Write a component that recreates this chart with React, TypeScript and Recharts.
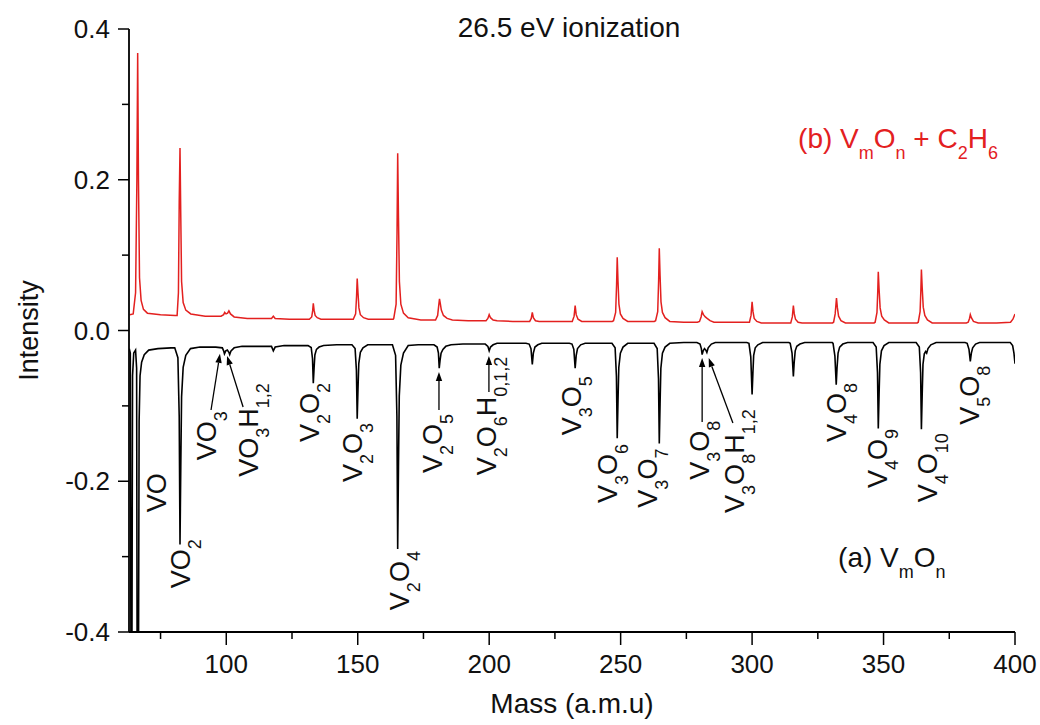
import React from 'react';
import { LineChart, Line, XAxis, YAxis, ReferenceDot, ReferenceLine } from 'recharts';

const FONT = '"Liberation Sans", Arial, Helvetica, sans-serif';
const RED = '#e3201f';

const xMajorTicks = [100, 150, 200, 250, 300, 350, 400];
const xAllTicks = [75, 100, 125, 150, 175, 200, 225, 250, 275, 300, 325, 350, 375, 400];
const yMajorTicks = [-0.4, -0.2, 0, 0.2, 0.4];
const yAllTicks = [-0.4, -0.3, -0.2, -0.1, 0, 0.1, 0.2, 0.3, 0.4];

// (b) VmOn + C2H6 spectrum : [mass, intensity]
const redTrace: [number, number][] = [
  [63.3, 0.021], [64.6, 0.022], [65.5, 0.05], [66.0, 0.2], [66.3, 0.368], [66.6, 0.2], [67.0, 0.07], [67.6, 0.04],
  [68.5, 0.028], [70, 0.023], [75, 0.021], [80.5, 0.020],
  [81.3, 0.020], [81.8, 0.05], [82.1, 0.17], [82.4, 0.242], [82.7, 0.15], [83.0, 0.065], [83.6, 0.037], [84.6, 0.027], [86.5, 0.022],
  [92, 0.019], [98, 0.019], [99.0, 0.021], [99.4, 0.024], [99.9, 0.022], [100.5, 0.023], [101.0, 0.026], [101.6, 0.022],
  [103, 0.018], [108, 0.016], [113, 0.016],
  [117.2, 0.016], [117.9, 0.019], [118.6, 0.016], [124, 0.015], [130, 0.015],
  [131.6, 0.015], [132.5, 0.018], [132.85, 0.026], [133.1, 0.036], [133.4, 0.027], [133.8, 0.020], [134.6, 0.017], [136, 0.015],
  [142, 0.015], [147.5, 0.015],
  [148.3, 0.015], [149.2, 0.022], [149.55, 0.045], [149.8, 0.069], [150.1, 0.050], [150.45, 0.030], [151.0, 0.021], [152.2, 0.017], [154, 0.015],
  [159, 0.015], [163.5, 0.015],
  [163.7, 0.016], [164.6, 0.035], [164.95, 0.13], [165.2, 0.235], [165.5, 0.15], [165.85, 0.065], [166.4, 0.035], [167.4, 0.023], [169.2, 0.017],
  [174, 0.014], [179, 0.014],
  [179.6, 0.014], [180.4, 0.020], [180.8, 0.033], [181.1, 0.042], [181.4, 0.036], [181.8, 0.027], [182.6, 0.020], [184, 0.016], [186, 0.014],
  [192, 0.013], [198, 0.013],
  [198.8, 0.013], [199.5, 0.016], [200.0, 0.021], [200.5, 0.017], [201.5, 0.014], [203, 0.013],
  [209, 0.012], [214.5, 0.012],
  [215.4, 0.012], [216.0, 0.016], [216.4, 0.024], [216.8, 0.017], [217.6, 0.013], [219, 0.012],
  [225, 0.012], [230.8, 0.012],
  [231.6, 0.012], [232.3, 0.019], [232.7, 0.033], [233.1, 0.021], [233.8, 0.015], [235.2, 0.012],
  [241, 0.012], [246.8, 0.012],
  [247.3, 0.013], [248.1, 0.024], [248.45, 0.060], [248.7, 0.097], [249.0, 0.065], [249.35, 0.035], [249.9, 0.022], [250.9, 0.016], [252.7, 0.012],
  [258, 0.012], [262.8, 0.012],
  [263.3, 0.013], [264.1, 0.025], [264.45, 0.066], [264.7, 0.109], [265.0, 0.073], [265.35, 0.038], [265.9, 0.024], [266.9, 0.017], [268.7, 0.012],
  [274, 0.011], [279.2, 0.011],
  [280.0, 0.012], [280.6, 0.018], [281.0, 0.025], [281.5, 0.021], [282.2, 0.018], [282.9, 0.016], [284, 0.013], [285.5, 0.011],
  [292, 0.011], [298.2, 0.011],
  [299.0, 0.011], [299.6, 0.020], [300.0, 0.038], [300.35, 0.025], [300.8, 0.016], [301.8, 0.012], [303.5, 0.010],
  [309, 0.010], [314.3, 0.010],
  [314.7, 0.010], [315.3, 0.018], [315.7, 0.033], [316.05, 0.022], [316.5, 0.015], [317.5, 0.011], [319, 0.010],
  [325, 0.010], [330.6, 0.010],
  [331.0, 0.011], [331.6, 0.022], [332.1, 0.043], [332.45, 0.030], [332.9, 0.019], [333.8, 0.013], [335.5, 0.010],
  [341, 0.010], [346.4, 0.010],
  [346.8, 0.011], [347.5, 0.024], [347.8, 0.052], [348.0, 0.078], [348.3, 0.055], [348.7, 0.030], [349.3, 0.019], [350.3, 0.014], [352, 0.010],
  [357, 0.010], [362.8, 0.010],
  [363.2, 0.011], [363.9, 0.025], [364.2, 0.054], [364.4, 0.081], [364.7, 0.057], [365.1, 0.031], [365.7, 0.020], [366.7, 0.014], [368.5, 0.010],
  [374, 0.010], [381.5, 0.010],
  [382.2, 0.011], [382.7, 0.016], [383.0, 0.021], [383.4, 0.017], [384.2, 0.012], [386, 0.010],
  [393, 0.010], [398.3, 0.011], [399.2, 0.015], [400, 0.022],
];

// (a) VmOn spectrum (plotted inverted) : [mass, intensity]
const blackTrace: [number, number][] = [
  [63.1, -0.024], [63.5, -0.03], [63.75, -0.45], [64.1, -0.45], [64.35, -0.06], [64.8, -0.03], [65.5, -0.026],
  [65.9, -0.05], [66.1, -0.45], [66.6, -0.45], [66.85, -0.12], [67.2, -0.06], [67.8, -0.042], [68.8, -0.032],
  [70.5, -0.026], [74, -0.024], [79, -0.023],
  [80.4, -0.023], [81.6, -0.036], [82.1, -0.114], [82.4, -0.284], [82.7, -0.180], [83.0, -0.088], [83.6, -0.049], [84.6, -0.033], [86.4, -0.024],
  [90, -0.022], [96, -0.022], [98.5, -0.023], [99.0, -0.027], [99.3, -0.031], [99.8, -0.027], [100.4, -0.026],
  [101.0, -0.029], [101.3, -0.032], [101.8, -0.027], [103, -0.023], [106, -0.021], [112, -0.021],
  [117.2, -0.021], [117.9, -0.027], [118.6, -0.022], [122, -0.020], [128, -0.020],
  [131.1, -0.020], [132.3, -0.0225], [132.8, -0.0375], [133.1, -0.070], [133.4, -0.050], [133.7, -0.0325], [134.3, -0.025], [135.3, -0.022], [137, -0.020],
  [142, -0.019], [147, -0.019],
  [147.8, -0.019], [149.0, -0.024], [149.5, -0.053], [149.8, -0.117], [150.1, -0.078], [150.4, -0.044], [151.0, -0.029], [152.0, -0.023], [153.8, -0.019],
  [158, -0.019], [162, -0.019],
  [163.2, -0.019], [164.4, -0.033], [164.9, -0.114], [165.2, -0.29], [165.5, -0.18], [165.8, -0.087], [166.4, -0.046], [167.4, -0.030], [169.2, -0.020],
  [173, -0.019], [178, -0.019],
  [179.0, -0.019], [180.2, -0.022], [180.7, -0.030], [181.0, -0.050], [181.3, -0.040], [181.7, -0.030], [182.4, -0.025], [183.5, -0.021], [185.5, -0.019],
  [190, -0.018], [196, -0.018],
  [198.5, -0.018], [199.5, -0.021], [200.0, -0.027], [200.5, -0.022], [201.5, -0.019], [203, -0.017],
  [208, -0.017], [214, -0.017],
  [215.2, -0.018], [215.9, -0.024], [216.4, -0.045], [216.8, -0.030], [217.4, -0.022], [218.5, -0.019], [220, -0.017],
  [226, -0.017], [230.5, -0.017],
  [231.5, -0.018], [232.2, -0.025], [232.7, -0.050], [233.1, -0.033], [233.6, -0.024], [234.8, -0.019], [236.5, -0.017],
  [241, -0.017], [246.5, -0.017],
  [246.7, -0.017], [247.9, -0.023], [248.4, -0.061], [248.7, -0.143], [249.0, -0.093], [249.3, -0.049], [249.9, -0.030], [250.9, -0.022], [252.7, -0.017],
  [258, -0.017], [262.5, -0.017],
  [262.7, -0.017], [263.9, -0.024], [264.4, -0.064], [264.7, -0.150], [265.0, -0.097], [265.3, -0.050], [265.9, -0.030], [266.9, -0.022], [268.7, -0.017],
  [274, -0.016], [279, -0.016],
  [280.2, -0.018], [280.7, -0.024], [281.0, -0.032], [281.4, -0.027], [281.9, -0.024], [282.4, -0.026], [282.8, -0.029], [283.3, -0.023], [284.5, -0.018], [286, -0.016],
  [292, -0.016], [298, -0.016],
  [298.8, -0.017], [299.5, -0.035], [300.0, -0.085], [300.3, -0.057], [300.6, -0.033], [301.2, -0.023], [302.2, -0.019], [304, -0.016],
  [309, -0.016], [314, -0.016],
  [314.5, -0.017], [315.2, -0.030], [315.7, -0.061], [316.0, -0.043], [316.4, -0.027], [317.0, -0.021], [318.2, -0.018], [320, -0.016],
  [326, -0.016], [330.5, -0.016],
  [330.8, -0.017], [331.5, -0.034], [332.0, -0.072], [332.3, -0.050], [332.7, -0.030], [333.3, -0.022], [334.5, -0.018], [336.3, -0.016],
  [341, -0.016], [345.8, -0.016],
  [346.0, -0.016], [347.2, -0.022], [347.7, -0.056], [348.0, -0.130], [348.3, -0.085], [348.6, -0.045], [349.2, -0.027], [350.2, -0.020], [352, -0.016],
  [357, -0.016], [362, -0.016],
  [362.4, -0.016], [363.6, -0.022], [364.1, -0.056], [364.4, -0.131], [364.7, -0.085], [365.0, -0.045], [365.5, -0.031],
  [366.0, -0.028], [366.4, -0.030], [366.9, -0.024], [368, -0.019], [370, -0.016],
  [376, -0.016], [381, -0.016],
  [381.8, -0.017], [382.5, -0.025], [383.0, -0.041], [383.4, -0.030], [383.9, -0.023], [385, -0.018], [386.5, -0.016],
  [392, -0.016], [398.2, -0.016], [399.1, -0.020], [399.6, -0.030], [400, -0.044],
];

// peak assignments: anchor [mass, intensity] of the start of the rotated label
const peakLabelText = ['V_O', 'VO_2', 'VO_3', 'VO_3H_1,2', 'V_2O_2', 'V_2O_3', 'V_2O_4', 'V_2O_5', 'V_2O_6H_0,1,2',
  'V_3O_5', 'V_3O_6', 'V_3O_7', 'V_3O_8', 'V_3O_8H_1,2', 'V_4O_8', 'V_4O_9', 'V_4O_10', 'V_5O_8'];
const peakLabelMass = [77.1, 86.2, 96.1, 112.1, 135.3, 151.6, 169.5, 182.1, 202.6,
  234.9, 248.6, 263.8, 283.6, 297.0, 335.7, 351.3, 370.3, 386.3];
const peakLabelY = [-0.241, -0.342, -0.172, -0.194, -0.148, -0.201, -0.371, -0.189, -0.192,
  -0.139, -0.229, -0.235, -0.198, -0.242, -0.148, -0.209, -0.228, -0.125];

// arrows: [fromMass, fromY, toMass, toY]
const arrows: [number, number, number, number][] = [
  [94.2, -0.1055, 97.6, -0.031],
  [106.4, -0.1015, 100.3, -0.0338],
  [180.9, -0.1055, 180.9, -0.055],
  [199.9, -0.0816, 199.9, -0.0338],
  [281.0, -0.1214, 281.0, -0.0365],
  [292.7, -0.1227, 283.5, -0.0365],
];

const titleText = '26.5 eV ionization';
const seriesBText = '(b) V_mO_n + C_2H_6';
const seriesAText = '(a) V_mO_n';

const redData = redTrace.map(([m, v]) => ({ m, v }));
const blackData = blackTrace.map(([m, v]) => ({ m, v }));

const X_TICK_SIZE = 13;
const X_TICK_MARGIN = 10;
const Y_TICK_SIZE = 11;
const Y_TICK_MARGIN = 8;

function parseFormula(t: string) {
  const raw = t.split(/_([^A-Z_ (]+)/);
  const parts: { s: string; sub: boolean }[] = [];
  raw.forEach((s, i) => {
    if (s.length) parts.push({ s, sub: i % 2 === 1 });
  });
  return parts;
}

function Formula({ x, y, text, size, fill, rotate, anchor }: any) {
  const parts = parseFormula(text.replace('V_O', 'VO'));
  const subSize = Math.round(size * 0.65);
  const subShift = Math.round(size * 0.4);
  let cur = 0;
  return (
    <text
      x={x}
      y={y}
      transform={rotate ? `rotate(-90 ${x} ${y})` : undefined}
      fontFamily={FONT}
      fontSize={size}
      fill={fill}
      textAnchor={anchor || 'start'}
      style={{ whiteSpace: 'pre' }}
    >
      {parts.map((p, i) => {
        const target = p.sub ? subShift : 0;
        const dy = target - cur;
        cur = target;
        return (
          <tspan key={i} dy={dy} fontSize={p.sub ? subSize : size}>
            {p.s}
          </tspan>
        );
      })}
    </text>
  );
}

function ArrowShape(props: any) {
  const { x1, y1, x2, y2 } = props;
  const dx = x2 - x1;
  const dy = y2 - y1;
  const len = Math.sqrt(dx * dx + dy * dy) || 1;
  const ux = dx / len;
  const uy = dy / len;
  const L = 9;
  const W = 3.2;
  const bx = x2 - ux * L;
  const by = y2 - uy * L;
  const pts = `${x2},${y2} ${bx - uy * W},${by + ux * W} ${bx + uy * W},${by - ux * W}`;
  return (
    <g>
      <line x1={x1} y1={y1} x2={bx} y2={by} stroke="#000" strokeWidth={1.3} />
      <polygon points={pts} fill="#000" />
    </g>
  );
}

function XTick(props: any) {
  const { x, y, payload } = props;
  const v = payload.value;
  const major = xMajorTicks.some((t) => Math.abs(t - v) < 1e-6);
  const y0 = y - X_TICK_SIZE - X_TICK_MARGIN;
  return (
    <g>
      <line x1={x} x2={x} y1={y0} y2={y0 + (major ? X_TICK_SIZE : 7)} stroke="#000" strokeWidth={1.5} />
      {major && (
        <text x={x} y={y} dy="0.71em" textAnchor="middle" fontFamily={FONT} fontSize={26} fill="#111">
          {String(v)}
        </text>
      )}
    </g>
  );
}

function YTick(props: any) {
  const { x, y, payload } = props;
  const v = payload.value;
  const major = yMajorTicks.some((t) => Math.abs(t - v) < 1e-6);
  const x0 = x + Y_TICK_SIZE + Y_TICK_MARGIN;
  const label = Math.abs(v) < 1e-9 ? '0.0' : Number(v).toFixed(1);
  return (
    <g>
      <line x1={x0} x2={x0 - (major ? Y_TICK_SIZE : 7)} y1={y} y2={y} stroke="#000" strokeWidth={1.5} />
      {major && (
        <text x={x} y={y} dy="0.355em" textAnchor="end" fontFamily={FONT} fontSize={26} fill="#111">
          {label}
        </text>
      )}
    </g>
  );
}

export default function App() {
  return (
    <div style={{ position: 'absolute', left: 0, top: 0, width: 1040, height: 725, background: '#fff' }}>
      <LineChart width={1040} height={725} margin={{ top: 29, right: 25, bottom: 0, left: 29 }}>
        <XAxis
          type="number"
          dataKey="m"
          domain={[63, 400]}
          allowDataOverflow
          ticks={xAllTicks}
          interval={0}
          tickSize={X_TICK_SIZE}
          tickMargin={X_TICK_MARGIN}
          height={93}
          axisLine={{ stroke: '#000', strokeWidth: 1.8 }}
          tickLine={{ stroke: 'transparent' }}
          tick={XTick}
          label={{
            content: (p: any) => {
              const vb = p.viewBox || { x: 129, y: 632, width: 886, height: 93 };
              return (
                <text x={vb.x + vb.width / 2} y={713} textAnchor="middle" fontFamily={FONT} fontSize={28} fill="#111">
                  Mass (a.m.u)
                </text>
              );
            },
          }}
        />
        <YAxis
          type="number"
          domain={[-0.4, 0.4]}
          allowDataOverflow
          ticks={yAllTicks}
          interval={0}
          tickSize={Y_TICK_SIZE}
          tickMargin={Y_TICK_MARGIN}
          width={100}
          axisLine={{ stroke: '#000', strokeWidth: 1.8 }}
          tickLine={{ stroke: 'transparent' }}
          tick={YTick}
          label={{
            content: (p: any) => {
              const vb = p.viewBox || { x: 29, y: 29, width: 100, height: 603 };
              const cx = vb.x + 9;
              const cy = vb.y + vb.height / 2;
              return (
                <text x={cx} y={cy} transform={`rotate(-90 ${cx} ${cy})`} textAnchor="middle" fontFamily={FONT} fontSize={27} fill="#111">
                  Intensity
                </text>
              );
            },
          }}
        />
        <Line data={redData} dataKey="v" type="linear" stroke={RED} strokeWidth={1.5} dot={false} isAnimationActive={false} />
        <Line data={blackData} dataKey="v" type="linear" stroke="#000" strokeWidth={1.6} dot={false} isAnimationActive={false} />

        {arrows.map((a, i) => (
          <ReferenceLine
            key={'ar' + i}
            segment={[{ x: a[0], y: a[1] }, { x: a[2], y: a[3] }]}
            stroke="#000"
            shape={ArrowShape}
          />
        ))}

        {peakLabelText.map((t, i) => (
          <ReferenceDot
            key={'pl' + i}
            x={peakLabelMass[i]}
            y={peakLabelY[i]}
            r={0}
            shape={(p: any) => <Formula x={p.cx} y={p.cy} text={t} size={27} fill="#111" rotate />}
          />
        ))}

        <ReferenceDot
          x={230.4}
          y={0.389}
          r={0}
          shape={(p: any) => <Formula x={p.cx} y={p.cy} text={titleText} size={28} fill="#111" anchor="middle" />}
        />
        <ReferenceDot
          x={317.5}
          y={0.242}
          r={0}
          shape={(p: any) => <Formula x={p.cx} y={p.cy} text={seriesBText} size={28} fill={RED} />}
        />
        <ReferenceDot
          x={332.7}
          y={-0.314}
          r={0}
          shape={(p: any) => <Formula x={p.cx} y={p.cy} text={seriesAText} size={28} fill="#111" />}
        />
      </LineChart>
    </div>
  );
}
